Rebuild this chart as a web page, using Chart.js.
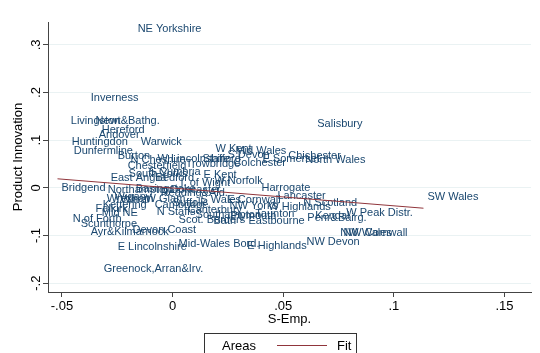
<!DOCTYPE html>
<html>
<head>
<meta charset="utf-8">
<script src="https://cdn.jsdelivr.net/npm/chart.js@4/dist/chart.umd.min.js"></script>
<style>
  html, body { margin: 0; padding: 0; background: #ffffff; }
  #wrap { width: 540px; height: 353px; }
</style>
</head>
<body>
<div id="wrap"><canvas id="c" width="540" height="353"></canvas></div>
<script>
// Areas: shift in employment vs. product innovation
const areaNames = [
  "NE Yorkshire", "Inverness", "Livingston", "Newt&Bathg.", "Hereford", "Andover",
  "Huntingdon", "Dunfermline", "Warwick", "Salisbury", "W Kent", "Mid Wales",
  "S Devon", "Chichester", "E Somerset", "North Wales", "Burton", "N Cheshire",
  "W Lincolnshire", "Stafford", "Chesterfield", "Trowbridge", "Colchester",
  "S Cumbria", "South Yorks", "East Anglia", "Bedford", "E Kent", "I. of Wight",
  "W Norfolk", "Harrogate", "Bridgend", "Northampton", "Basingstoke", "Reading&Ald.",
  "Doncaster", "Lancaster", "Wrexham", "Wigan", "Wirral", "W Glam", "S Wales",
  "E Cornwall", "N Scotland", "NW Yorks", "W Highlands", "W Peak Distr.", "Kettering",
  "Cambridge", "Suffolk", "Falkirk", "Mid NE", "N Staffs", "Canterbury",
  "Scot. Borders", "Bath", "Taunton", "Eastbourne", "Southampton", "Plymouth",
  "N of Forth", "Scunthorpe", "Ayr&Kilmarnock", "Devon Coast", "E Lincolnshire",
  "Mid-Wales Bord.", "E Highlands", "NW Devon", "NW Wales", "NW Cornwall",
  "SW Wales", "Greenock,Arran&Irv.", "Kendal", "Penr&Bairg."
];
const sEmp = [
  -0.0176, -0.0388, -0.0478, -0.0366, -0.0338, -0.0352,
  -0.0474, -0.0465, -0.0162, 0.0636, 0.0176, 0.0266,
  0.0230, 0.0505, 0.0388, 0.0582, -0.0266, -0.0208,
  -0.0086, 0.0117, -0.0221, 0.0041, 0.0257,
  -0.0126, -0.0217, -0.0298, -0.0095, 0.0122, 0.0018,
  0.0171, 0.0384, -0.0520, -0.0311, -0.0185, -0.0072,
  -0.0027, 0.0456, -0.0316, -0.0280, -0.0253, -0.0140, 0.0108,
  0.0230, 0.0573, 0.0239, 0.0415, 0.0767, -0.0334,
  -0.0099, -0.0018, -0.0366, -0.0338, -0.0090, 0.0050,
  0.0009, 0.0167, 0.0356, 0.0325, 0.0086, 0.0244,
  -0.0469, -0.0433, -0.0388, -0.0199, -0.0266,
  0.0009, 0.0320, 0.0587, 0.0740, 0.0754,
  0.1134, -0.0329, 0.0627, 0.0591
];
const prodInnov = [
  0.3326, 0.1895, 0.1410, 0.1410, 0.1221, 0.1116,
  0.0968, 0.0779, 0.0968, 0.1347, 0.0821, 0.0779,
  0.0695, 0.0674, 0.0611, 0.0589, 0.0674, 0.0589,
  0.0611, 0.0611, 0.0463, 0.0505, 0.0526,
  0.0337, 0.0295, 0.0211, 0.0211, 0.0274, 0.0105,
  0.0147, 0.0000, 0.0000, -0.0042, -0.0021, -0.0105,
  -0.0042, -0.0168, -0.0232, -0.0189, -0.0253, -0.0232, -0.0253,
  -0.0253, -0.0316, -0.0379, -0.0400, -0.0526, -0.0358,
  -0.0358, -0.0316, -0.0442, -0.0526, -0.0505, -0.0463,
  -0.0674, -0.0695, -0.0547, -0.0695, -0.0568, -0.0589,
  -0.0653, -0.0758, -0.0926, -0.0884, -0.1242,
  -0.1179, -0.1221, -0.1137, -0.0947, -0.0947,
  -0.0189, -0.1705, -0.0589, -0.0632
];

// Linear fit line end points
const fitX = [-0.0520, 0.1134];
const fitY = [0.0190, -0.0427];

// Axis ticks and their labels
const xTicks = [-0.05, 0, 0.05, 0.1, 0.15];
const xTickLabels = ["-.05", "0", ".05", ".1", ".15"];
const yTicks = [-0.2, -0.1, 0, 0.1, 0.2, 0.3];
const yTickLabels = ["-.2", "-.1", "0", ".1", ".2", ".3"];

const FONT = "'Liberation Sans', Arial, Helvetica, sans-serif";
const NAVY = "#1a476f";
const MAROON = "#90353b";
const AXIS = "#444444";

const scatterPoints = sEmp.map((x, i) => ({ x: x, y: prodInnov[i] }));
const fitPoints = fitX.map((x, i) => ({ x: x, y: fitY[i] }));

// Writes each area's name just right of its point
const areaLabels = {
  id: 'areaLabels',
  afterDatasetDraw(chart, args) {
    if (args.index !== 1) return;
    const ctx = chart.ctx;
    const meta = chart.getDatasetMeta(1);
    ctx.save();
    ctx.font = "11px " + FONT;
    ctx.fillStyle = NAVY;
    ctx.textAlign = 'left';
    ctx.textBaseline = 'middle';
    meta.data.forEach((pt, i) => {
      ctx.fillText(areaNames[i], pt.x + 4, pt.y);
    });
    ctx.restore();
  }
};

// Rotated y tick labels, axis titles and the legend box
const decorations = {
  id: 'decorations',
  afterDraw(chart) {
    const ctx = chart.ctx;
    const ys = chart.scales.y;
    const area = chart.chartArea;
    ctx.save();
    ctx.fillStyle = "#000";
    ctx.font = "13px " + FONT;
    ctx.textAlign = 'center';
    ctx.textBaseline = 'middle';
    yTicks.forEach((v, i) => {
      const py = ys.getPixelForValue(v);
      ctx.save();
      ctx.translate(36, py);
      ctx.rotate(-Math.PI / 2);
      ctx.fillText(yTickLabels[i], 0, 0);
      ctx.restore();
    });
    // y title
    ctx.save();
    ctx.translate(18, (area.top + area.bottom) / 2);
    ctx.rotate(-Math.PI / 2);
    ctx.fillText("Product Innovation", 0, 0);
    ctx.restore();
    // x title
    ctx.fillText("S-Emp.", (area.left + area.right) / 2, 319);

    // legend
    ctx.strokeStyle = "#333";
    ctx.lineWidth = 1;
    ctx.strokeRect(204.5, 333.5, 152, 30);
    ctx.textAlign = 'left';
    ctx.fillText("Areas", 222, 346);
    ctx.strokeStyle = MAROON;
    ctx.beginPath();
    ctx.moveTo(277, 345.5);
    ctx.lineTo(327, 345.5);
    ctx.stroke();
    ctx.fillText("Fit", 337, 346);
    ctx.restore();
  }
};

new Chart(document.getElementById('c'), {
  data: {
    datasets: [
      {
        type: 'line',
        label: 'Fit',
        data: fitPoints,
        borderColor: MAROON,
        borderWidth: 1,
        pointRadius: 0,
        fill: false,
        order: 0
      },
      {
        type: 'scatter',
        label: 'Areas',
        data: scatterPoints,
        pointRadius: 0,
        pointHoverRadius: 0,
        order: 1
      }
    ]
  },
  options: {
    responsive: false,
    devicePixelRatio: 1,
    animation: false,
    events: [],
    layout: { padding: { top: 22, right: 9, left: 0, bottom: 0 } },
    plugins: {
      legend: { display: false },
      tooltip: { enabled: false },
      title: { display: false }
    },
    scales: {
      x: {
        type: 'linear',
        min: -0.0563,
        max: 0.162,
        afterBuildTicks: s => { s.ticks = xTicks.map(v => ({ value: v })); },
        afterFit: s => { s.height = 61; },
        ticks: {
          callback: (v, i) => xTickLabels[i],
          font: { family: FONT, size: 13 },
          color: "#000",
          padding: 2,
          maxRotation: 0,
          minRotation: 0
        },
        grid: {
          color: 'rgba(0,0,0,0)',
          tickColor: AXIS,
          tickLength: 5,
          drawTicks: true
        },
        border: { display: true, color: AXIS, width: 1 }
      },
      y: {
        type: 'linear',
        min: -0.2185,
        max: 0.348,
        afterBuildTicks: s => { s.ticks = yTicks.map(v => ({ value: v })); },
        afterFit: s => { s.width = 48; },
        ticks: { display: false },
        grid: {
          color: '#eaf2f3',
          lineWidth: 1,
          tickColor: AXIS,
          tickLength: 5,
          drawTicks: true
        },
        border: { display: true, color: AXIS, width: 1 }
      }
    }
  },
  plugins: [areaLabels, decorations]
});
</script>
</body>
</html>
